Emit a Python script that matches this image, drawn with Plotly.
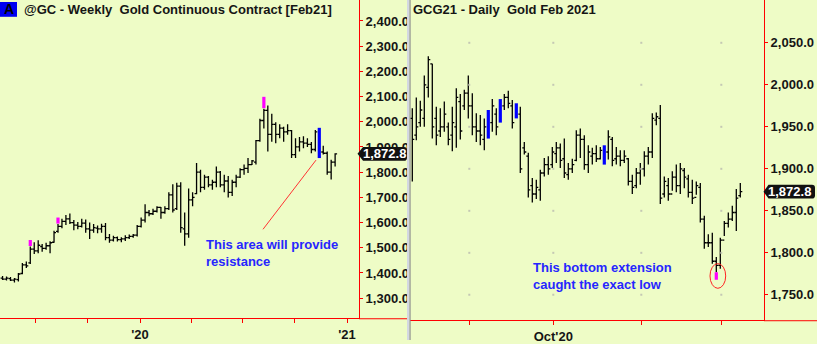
import plotly.graph_objects as go
import pandas as pd

W, H = 817, 344
BG = "#EEFCC6"
FONT = "Liberation Sans, Arial, sans-serif"
TXT = "#151515"
BLUE_TXT = "#2626FF"

# ---------------- Weekly continuous contract (left) ----------------
w_open = [1380, 1376, 1378, 1372, 1374, 1398, 1432, 1440, 1495, 1488,
          1505, 1498, 1508, 1522, 1565, 1585, 1605, 1615, 1600, 1590,
          1585, 1598, 1575, 1570, 1578, 1575, 1585, 1540, 1530, 1540,
          1532, 1535, 1540, 1545, 1550, 1585, 1610, 1640, 1635, 1645,
          1660, 1640, 1655, 1710, 1655, 1745, 1575, 1555, 1690, 1715,
          1800, 1740, 1780, 1750, 1760, 1800, 1750, 1765, 1720, 1760,
          1780, 1810, 1815, 1830, 1840, 1925, 2005, 2045, 1950, 1990,
          1950, 1975, 1960, 1965, 1870, 1900, 1920, 1915, 1910, 1890,
          1960, 1880, 1875, 1800, 1840]
w_high = [1388, 1386, 1384, 1380, 1400, 1440, 1446, 1505, 1522, 1530,
          1515, 1520, 1526, 1568, 1594, 1615, 1630, 1636, 1610, 1602,
          1615, 1612, 1600, 1594, 1588, 1595, 1598, 1555, 1548, 1545,
          1542, 1550, 1553, 1555, 1590, 1620, 1673, 1650, 1655, 1665,
          1662, 1665, 1720, 1752, 1758, 1760, 1640, 1735, 1720, 1836,
          1810, 1790, 1785, 1770, 1823, 1805, 1790, 1785, 1770, 1790,
          1816, 1830, 1856, 1848, 1928, 2012, 2052, 2065, 2032, 1998,
          1990, 1980, 1990, 1967, 1935, 1940, 1943, 1935, 1920, 1967,
          1976, 1905, 1882, 1849, 1875]
w_low = [1372, 1370, 1368, 1362, 1366, 1395, 1420, 1436, 1475, 1478,
         1484, 1492, 1478, 1520, 1560, 1578, 1590, 1594, 1570, 1574,
         1580, 1560, 1535, 1560, 1558, 1560, 1530, 1520, 1525, 1525,
         1522, 1527, 1535, 1540, 1545, 1580, 1600, 1625, 1630, 1640,
         1615, 1635, 1650, 1640, 1650, 1560, 1508, 1540, 1665, 1712,
         1720, 1730, 1740, 1730, 1740, 1740, 1720, 1700, 1705, 1740,
         1777, 1790, 1797, 1828, 1830, 1921, 1973, 1882, 1921, 1915,
         1935, 1921, 1948, 1856, 1856, 1882, 1895, 1900, 1875, 1882,
         1856, 1870, 1790, 1771, 1823]
w_close = [1376, 1380, 1372, 1376, 1396, 1432, 1428, 1495, 1488, 1510,
           1498, 1508, 1520, 1560, 1585, 1605, 1615, 1600, 1590, 1585,
           1598, 1575, 1570, 1580, 1575, 1585, 1540, 1530, 1540, 1532,
           1535, 1540, 1545, 1550, 1585, 1610, 1640, 1635, 1645, 1660,
           1640, 1655, 1710, 1650, 1745, 1580, 1555, 1690, 1700, 1800,
           1740, 1780, 1750, 1760, 1800, 1750, 1765, 1720, 1760, 1780,
           1810, 1815, 1830, 1845, 1925, 2005, 2045, 1950, 1990, 1950,
           1975, 1960, 1965, 1870, 1900, 1920, 1915, 1910, 1890, 1960,
           1880, 1875, 1800, 1840, 1872.8]
w_dates = pd.date_range("2019-05-03", periods=len(w_close), freq="7D")
w_blue_idx = [80]
w_pink_idx = [7, 14, 66]
w_pink_lo = [1507, 1596, 2054]
w_pink_hi = [1531, 1620, 2099]
w_yticks = [1300, 1400, 1500, 1600, 1700, 1800, 1900, 2000, 2100, 2200, 2300, 2400]
w_xticks = ["2019-07-01", "2019-10-01", "2020-01-01", "2020-04-01",
            "2020-07-01", "2020-10-01", "2021-01-01"]
w_xtext = ["", "", "'20", "", "", "", "'21"]

# ---------------- Daily Feb 2021 contract (right) ----------------
d_open = [1960, 1940, 1955, 1960, 1997, 2025, 1960, 1945, 1950, 1950,
          1940, 1950, 1980, 1975, 1990, 1975, 1950, 1945, 1935, 1950,
          1955, 1965, 1965, 1975, 1985, 1975, 1965, 1965, 1925, 1915,
          1880, 1870, 1875, 1895, 1905, 1905, 1918, 1925, 1912, 1893,
          1900, 1910, 1940, 1935, 1905, 1915, 1918, 1912, 1915, 1920,
          1935, 1912, 1915, 1910, 1912, 1885, 1880, 1895, 1900, 1915,
          1920, 1958, 1960, 1870, 1880, 1870, 1890, 1880, 1898, 1888,
          1872, 1866, 1878, 1840, 1812, 1812, 1790, 1785, 1815, 1835,
          1840, 1848, 1868]
d_high = [1972, 1985, 1981, 2011, 2034, 2025, 1974, 1972, 1980, 1955,
          1974, 1996, 1989, 1994, 2011, 1990, 1966, 1964, 1960, 1970,
          1983, 1972, 1983, 1989, 1993, 1982, 1978, 1974, 1932, 1919,
          1889, 1887, 1899, 1913, 1915, 1926, 1932, 1930, 1936, 1907,
          1912, 1946, 1948, 1940, 1928, 1925, 1928, 1926, 1928, 1946,
          1938, 1926, 1922, 1922, 1913, 1893, 1901, 1907, 1921, 1926,
          1966, 1967, 1976, 1891, 1889, 1897, 1905, 1907, 1901, 1893,
          1887, 1885, 1883, 1844, 1822, 1824, 1795, 1818, 1838, 1848,
          1856, 1876, 1883]
d_low = [1885, 1934, 1950, 1950, 1985, 1936, 1928, 1938, 1944, 1928,
         1921, 1925, 1935, 1970, 1960, 1940, 1932, 1928, 1922, 1936,
         1944, 1940, 1955, 1970, 1972, 1948, 1960, 1895, 1917, 1866,
         1860, 1864, 1862, 1891, 1893, 1901, 1907, 1901, 1889, 1887,
         1895, 1909, 1913, 1899, 1895, 1905, 1908, 1911, 1905, 1911,
         1903, 1905, 1903, 1907, 1880, 1870, 1877, 1881, 1891, 1905,
         1913, 1952, 1858, 1866, 1862, 1874, 1872, 1870, 1877, 1866,
         1858, 1869, 1836, 1805, 1807, 1787, 1777, 1781, 1820, 1830,
         1838, 1826, 1866]
d_close = [1935, 1950, 1970, 2000, 2030, 1950, 1940, 1950, 1965, 1935,
           1955, 1985, 1945, 1990, 1975, 1950, 1945, 1940, 1950, 1960,
           1975, 1950, 1975, 1985, 1978, 1955, 1970, 1900, 1920, 1875,
           1870, 1878, 1895, 1905, 1900, 1920, 1925, 1910, 1895, 1900,
           1905, 1940, 1935, 1905, 1920, 1918, 1912, 1922, 1920, 1938,
           1910, 1915, 1910, 1915, 1885, 1878, 1895, 1900, 1915, 1920,
           1960, 1962, 1865, 1885, 1870, 1890, 1880, 1900, 1890, 1872,
           1865, 1880, 1840, 1812, 1812, 1790, 1785, 1815, 1835, 1840,
           1848, 1865, 1872.8]
d_idx = list(range(len(d_close)))
d_blue_idx = [19, 22, 26, 48]
d_pink_idx = [76]
d_pink_lo = [1768]
d_pink_hi = [1777]
d_month_start = [15, 36, 58, 78]
d_month_text = ["", "Oct'20", "", ""]
d_yticks = [1750, 1800, 1850, 1900, 1950, 2000, 2050]

last_price = 1872.8

# ---------------- pixel calibration of the panels ----------------
L_X0, L_X1, L_YB = 0, 359, 322        # left plot box (px)
R_X0, R_X1, R_YB = 410, 764, 324      # right plot box (px)
jan20 = pd.Timestamp("2020-01-01")
px_per_day = 207 / 366.0
l_xrange = [jan20 + pd.Timedelta(days=(L_X0 - 140) / px_per_day),
            jan20 + pd.Timedelta(days=(L_X1 - 140) / px_per_day)]
l_yrange = [1300 + (301.7 - L_YB) / 0.255, 1300 + 301.7 / 0.255]
r_xrange = [(R_X0 - 412.3) / 4.0, (R_X1 - 412.3) / 4.0]
r_yrange = [1750 + (298.3 - R_YB) / 0.85, 1750 + 298.3 / 0.85]


def px(x):
    return x / W


def py(y):
    return 1 - y / H


fig = go.Figure()
bar_line = dict(color="black", width=1.3)

# left OHLC (painted bars drawn separately)
keep = [i for i in range(len(w_close)) if i not in w_blue_idx]
fig.add_trace(go.Ohlc(
    x=[w_dates[i] for i in keep], open=[w_open[i] for i in keep],
    high=[w_high[i] for i in keep], low=[w_low[i] for i in keep],
    close=[w_close[i] for i in keep], tickwidth=0.5,
    increasing=dict(line=bar_line), decreasing=dict(line=bar_line),
    xaxis="x", yaxis="y", showlegend=False, hoverinfo="skip"))


def seg(xs, los, his):
    X, Y = [], []
    for a, lo, hi in zip(xs, los, his):
        X += [a, a, None]
        Y += [lo, hi, None]
    return X, Y


X, Y = seg([w_dates[i] for i in w_blue_idx], [w_low[i] for i in w_blue_idx],
           [w_high[i] for i in w_blue_idx])
fig.add_trace(go.Scatter(x=X, y=Y, mode="lines", line=dict(color="#0000FF", width=3.2),
                         xaxis="x", yaxis="y", showlegend=False, hoverinfo="skip"))
X, Y = seg([w_dates[i] for i in w_pink_idx], w_pink_lo, w_pink_hi)
fig.add_trace(go.Scatter(x=X, y=Y, mode="lines", line=dict(color="#FF00FF", width=3.2),
                         xaxis="x", yaxis="y", showlegend=False, hoverinfo="skip"))

# right grid dots
gx, gy = [], []
for m in d_month_start:
    for v in d_yticks:
        gx.append(m - 0.75)
        gy.append(v)
fig.add_trace(go.Scatter(x=gx, y=gy, mode="markers",
                         marker=dict(size=2, color="#C4C8B4", symbol="square"),
                         xaxis="x2", yaxis="y2", showlegend=False, hoverinfo="skip"))

keep = [i for i in d_idx if i not in d_blue_idx]
fig.add_trace(go.Ohlc(
    x=keep, open=[d_open[i] for i in keep], high=[d_high[i] for i in keep],
    low=[d_low[i] for i in keep], close=[d_close[i] for i in keep], tickwidth=0.5,
    increasing=dict(line=bar_line), decreasing=dict(line=bar_line),
    xaxis="x2", yaxis="y2", showlegend=False, hoverinfo="skip"))
X, Y = seg(d_blue_idx, [d_low[i] for i in d_blue_idx], [d_high[i] for i in d_blue_idx])
fig.add_trace(go.Scatter(x=X, y=Y, mode="lines", line=dict(color="#0000FF", width=3.2),
                         xaxis="x2", yaxis="y2", showlegend=False, hoverinfo="skip"))
X, Y = seg(d_pink_idx, d_pink_lo, d_pink_hi)
fig.add_trace(go.Scatter(x=X, y=Y, mode="lines", line=dict(color="#FF00FF", width=3.2),
                         xaxis="x2", yaxis="y2", showlegend=False, hoverinfo="skip"))

tickfont = dict(family=FONT, size=13, color=TXT, weight="bold")
common_y = dict(side="right", ticks="outside", ticklen=3, tickcolor="#FF0000", tickwidth=1,
                showline=True, linecolor="#FF0000", linewidth=1, showgrid=False,
                zeroline=False, tickformat=",.1f", tickfont=tickfont, fixedrange=True)
common_x = dict(ticks="outside", ticklen=4, tickcolor="#FF0000", tickwidth=1,
                showline=True, linecolor="#FF0000", linewidth=1, showgrid=False,
                zeroline=False, tickfont=tickfont, rangeslider=dict(visible=False),
                tickangle=0)

fig.update_layout(
    width=W, height=H, margin=dict(l=0, r=0, t=0, b=0),
    paper_bgcolor=BG, plot_bgcolor=BG, showlegend=False,
    xaxis=dict(domain=[px(L_X0), px(L_X1)], type="date", range=l_xrange, anchor="y",
               tickvals=w_xticks, ticktext=w_xtext, **common_x),
    yaxis=dict(domain=[py(L_YB), 1], range=l_yrange, anchor="x", tickvals=w_yticks, **common_y),
    xaxis2=dict(domain=[px(R_X0), px(R_X1)], range=r_xrange, anchor="y2",
                tickvals=[m - 0.75 for m in d_month_start], ticktext=d_month_text, **common_x),
    yaxis2=dict(domain=[py(R_YB), 1], range=r_yrange, anchor="x2", tickvals=d_yticks, **common_y),
)

shapes = []
# bottom red lines continuing under the price scale
shapes.append(dict(type="line", xref="paper", yref="paper", x0=px(L_X1), x1=px(407),
                   y0=py(L_YB + 0.5), y1=py(L_YB + 0.5), line=dict(color="#FF0000", width=1)))
shapes.append(dict(type="line", xref="paper", yref="paper", x0=px(R_X1), x1=1,
                   y0=py(R_YB + 0.5), y1=py(R_YB + 0.5), line=dict(color="#FF0000", width=1)))
# panel separator
shapes.append(dict(type="rect", xref="paper", yref="paper", x0=px(407), x1=px(409.5), y0=0, y1=1,
                   fillcolor="#D3D7E2", line=dict(width=0), layer="above"))
shapes.append(dict(type="rect", xref="paper", yref="paper", x0=px(409.5), x1=px(410.6), y0=0, y1=1,
                   fillcolor="#8A8A8A", line=dict(width=0), layer="above"))
# "A" box
shapes.append(dict(type="rect", xref="paper", yref="paper", x0=px(0), x1=px(17), y0=py(17), y1=py(2),
                   fillcolor="#0000F0", line=dict(width=0), layer="above"))


def pill(xref_tip, x_end, yref, price, half_h, x_body):
    # path in paper (x) / data (y) coords
    t, b = price + half_h, price - half_h
    r = half_h * 0.45
    rx = 3 / W
    p = (f"M {xref_tip} {price} L {x_body} {t} L {x_end - rx} {t} "
         f"Q {x_end} {t} {x_end} {t - r} L {x_end} {b + r} "
         f"Q {x_end} {b} {x_end - rx} {b} L {x_body} {b} Z")
    return dict(type="path", xref="paper", yref=yref, path=p, fillcolor="#111111",
                line=dict(width=0), layer="above")


shapes.append(pill(px(357.5), px(407), "y", last_price, 7 / 0.255, px(363)))
shapes.append(pill(px(763.5), px(815), "y2", last_price, 7 / 0.85, px(768.5)))

# red trend line (left) and red ellipse (right)
shapes.append(dict(type="line", xref="x", yref="y",
                   x0=jan20 + pd.Timedelta(days=(263 - 140) / px_per_day), y0=1300 + (301.7 - 232) / 0.255,
                   x1=jan20 + pd.Timedelta(days=(316 - 140) / px_per_day), y1=1300 + (301.7 - 162) / 0.255,
                   line=dict(color="#FF3333", width=1)))
shapes.append(dict(type="circle", xref="x2", yref="y2",
                   x0=(710 - 412.3) / 4, x1=(725.7 - 412.3) / 4,
                   y0=1750 + (298.3 - 291.7) / 0.85, y1=1750 + (298.3 - 266.7) / 0.85,
                   line=dict(color="#FF2222", width=1)))
fig.update_layout(shapes=shapes)

title_font = dict(family=FONT, size=13, color=TXT, weight="bold")
ann = [
    dict(text="A", x=px(8.5), y=py(9.5), xanchor="center", yanchor="middle",
         font=dict(family=FONT, size=14, color="#000000", weight="bold")),
    dict(text="@GC - Weekly  Gold Continuous Contract [Feb21]", x=px(22), y=py(10),
         xanchor="left", yanchor="middle", font=title_font),
    dict(text="GCG21 - Daily  Gold Feb 2021", x=px(411), y=py(10),
         xanchor="left", yanchor="middle", font=title_font),
    dict(text="This area will provide<br>resistance", x=px(204), y=py(256), align="left",
         xanchor="left", yanchor="middle",
         font=dict(family=FONT, size=13, color=BLUE_TXT, weight="bold")),
    dict(text="This bottom extension<br>caught the exact low", x=px(531), y=py(279), align="left",
         xanchor="left", yanchor="middle",
         font=dict(family=FONT, size=13, color=BLUE_TXT, weight="bold")),
    dict(text=f"{last_price:,.1f}", x=px(384.5), xref="paper", yref="y", y=last_price,
         xanchor="center", yanchor="middle",
         font=dict(family=FONT, size=13, color="#FFFFFF", weight="bold")),
    dict(text=f"{last_price:,.1f}", x=px(789), xref="paper", yref="y2", y=last_price,
         xanchor="center", yanchor="middle",
         font=dict(family=FONT, size=13, color="#FFFFFF", weight="bold")),
]
for a in ann:
    a.setdefault("xref", "paper")
    a.setdefault("yref", "paper")
    a["showarrow"] = False
fig.update_layout(annotations=ann)

fig.write_html("out.html")
